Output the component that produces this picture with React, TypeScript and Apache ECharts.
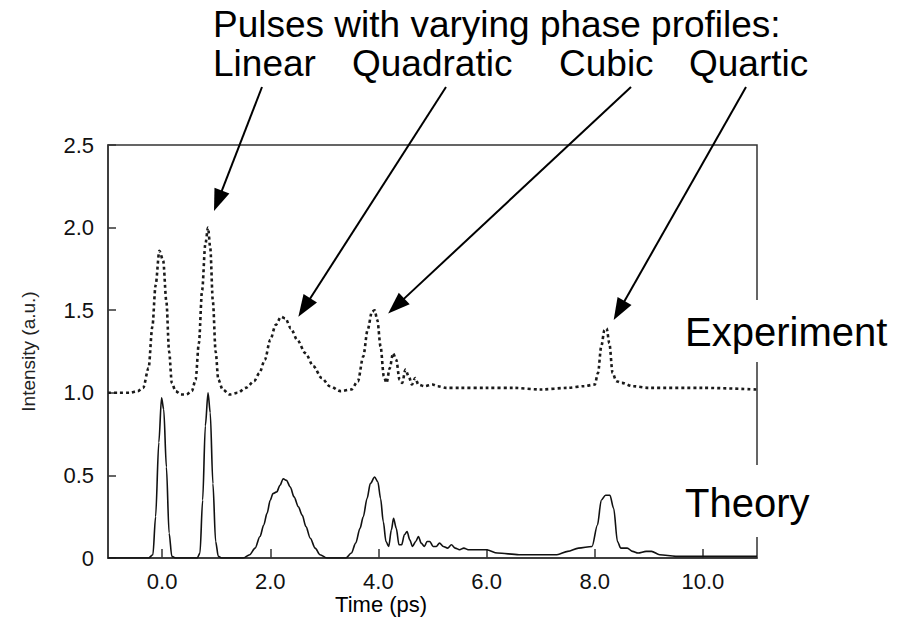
import React, { useEffect, useRef } from 'react';
import * as echarts from 'echarts';

// Experiment (dotted, offset by 1.0)
const expTime = [
  -1.0, -0.8, -0.6, -0.45, -0.35, -0.25, -0.18, -0.12, -0.05, 0.02, 0.08, 0.13, 0.18, 0.25, 0.35, 0.45,
  0.55, 0.62, 0.68, 0.74, 0.8, 0.85, 0.89, 0.94, 0.99, 1.04, 1.12, 1.25, 1.4, 1.55, 1.7, 1.8,
  1.9, 2.0, 2.1, 2.2, 2.28, 2.38, 2.5, 2.65, 2.8, 2.95, 3.1, 3.3, 3.5, 3.62, 3.72, 3.8,
  3.88, 3.93, 3.98, 4.04, 4.1, 4.15, 4.21, 4.27, 4.33, 4.39, 4.44, 4.5, 4.56, 4.62, 4.68, 4.74,
  4.85, 5.0, 5.1, 5.25, 5.5, 6.0, 6.5, 7.0, 7.5, 7.8, 8.0, 8.06, 8.12, 8.18, 8.22, 8.27,
  8.33, 8.4, 8.5, 8.7, 9.0, 10.0, 11.0,
];
const expIntensity = [
  1.0, 1.0, 1.0, 1.01, 1.03, 1.15, 1.4, 1.65, 1.86, 1.8, 1.55, 1.25, 1.06, 1.01, 0.99, 0.99,
  1.01, 1.08, 1.3, 1.62, 1.9, 2.0, 1.88, 1.55, 1.25, 1.08, 1.02, 0.99, 1.0, 1.03, 1.07, 1.12,
  1.2, 1.32, 1.41, 1.46, 1.45, 1.39, 1.32, 1.24, 1.16, 1.09, 1.04, 1.01, 1.02, 1.07, 1.22, 1.38,
  1.49, 1.5, 1.44, 1.28, 1.1, 1.06, 1.15, 1.24, 1.2, 1.08, 1.06, 1.14, 1.1, 1.05, 1.09, 1.05,
  1.04, 1.05, 1.04, 1.03, 1.03, 1.03, 1.03, 1.02, 1.03, 1.04, 1.05, 1.12, 1.28, 1.38, 1.39, 1.3,
  1.12, 1.07, 1.06, 1.04, 1.03, 1.03, 1.02,
];

// Theory (solid)
const theoryTime = [
  -1.0, -0.25, -0.17, -0.12, -0.06, -0.01, 0.03, 0.08, 0.13, 0.18, 0.25, 0.65, 0.7, 0.75, 0.8, 0.85,
  0.89, 0.94, 0.99, 1.04, 1.1, 1.5, 1.62, 1.72, 1.81, 1.88, 1.94, 2.0, 2.05, 2.12, 2.18, 2.24,
  2.3, 2.37, 2.44, 2.52, 2.59, 2.66, 2.74, 2.83, 2.92, 3.05, 3.4, 3.5, 3.58, 3.66, 3.72, 3.79,
  3.85, 3.93, 3.99, 4.04, 4.09, 4.14, 4.19, 4.24, 4.28, 4.33, 4.38, 4.43, 4.48, 4.53, 4.58, 4.63,
  4.69, 4.74, 4.79, 4.85, 4.9, 4.95, 5.01, 5.07, 5.13, 5.2, 5.28, 5.35, 5.42, 5.5, 5.58, 5.66,
  5.75, 5.85, 6.0, 6.2, 6.6, 7.0, 7.3, 7.5, 7.7, 7.95, 8.05, 8.12, 8.2, 8.28, 8.35, 8.42,
  8.48, 8.6, 8.7, 8.8, 8.95, 9.05, 9.2, 9.5, 10.0, 11.0,
];
const theoryIntensity = [
  0, 0, 0.02, 0.25, 0.7, 0.97, 0.9, 0.55, 0.15, 0.01, 0, 0, 0.03, 0.35, 0.8, 1.0,
  0.88, 0.45, 0.1, 0.01, 0, 0, 0.02, 0.06, 0.13, 0.2, 0.27, 0.35, 0.39, 0.4, 0.44, 0.48,
  0.47, 0.43, 0.37, 0.31, 0.26, 0.19, 0.12, 0.06, 0.02, 0, 0, 0.03, 0.09, 0.18, 0.25, 0.36,
  0.45, 0.49, 0.46, 0.36, 0.22, 0.1, 0.07, 0.17, 0.24, 0.18, 0.08, 0.08, 0.14, 0.16, 0.11, 0.07,
  0.1, 0.13, 0.09, 0.07, 0.1, 0.1, 0.07, 0.07, 0.09, 0.07, 0.06, 0.08, 0.06, 0.05, 0.06, 0.05,
  0.05, 0.05, 0.05, 0.03, 0.02, 0.02, 0.02, 0.04, 0.06, 0.07, 0.2, 0.35, 0.38, 0.38, 0.3, 0.1,
  0.06, 0.06, 0.04, 0.03, 0.04, 0.04, 0.02, 0.01, 0.01, 0.01,
];

const xTickValues = [0, 2, 4, 6, 8, 10];

const headerLine = 'Pulses with varying phase profiles:';
const pulseLabels = ['Linear', 'Quadratic', 'Cubic', 'Quartic'];
// arrow tips in data coordinates (time, intensity)
const arrowTipTime = [0.96, 2.52, 4.18, 8.35];
const arrowTipIntensity = [2.1, 1.46, 1.48, 1.44];

const FONT = 'Liberation Sans, Arial, Helvetica, sans-serif';

export default function App() {
  const ref = useRef<HTMLDivElement>(null);
  useEffect(() => {
    const chart = echarts.init(ref.current as HTMLDivElement, null, { renderer: 'svg' });
    const option: any = {
      animation: false,
      backgroundColor: '#ffffff',
      grid: {
        left: 108,
        right: 155,
        top: 145,
        bottom: 62,
        show: true,
        borderColor: '#333',
        borderWidth: 1.5,
        backgroundColor: 'transparent',
      },
      xAxis: {
        type: 'value',
        min: -1,
        max: 11,
        axisLine: { show: true, onZero: false, lineStyle: { color: '#333', width: 1.5 } },
        axisTick: {
          show: true,
          inside: true,
          length: 9,
          customValues: xTickValues,
          lineStyle: { color: '#333', width: 1.5 },
        },
        axisLabel: {
          customValues: xTickValues,
          formatter: (v: number) => v.toFixed(1),
          fontSize: 22,
          color: '#111',
          fontFamily: FONT,
          margin: 12,
        },
        splitLine: { show: false },
      },
      yAxis: {
        type: 'value',
        min: 0,
        max: 2.5,
        interval: 0.5,
        name: 'Intensity (a.u.)',
        nameLocation: 'middle',
        nameGap: 70,
        nameRotate: 90,
        nameTextStyle: { fontSize: 19, color: '#222', fontFamily: FONT },
        axisLine: { show: true, onZero: false, lineStyle: { color: '#333', width: 1.5 } },
        axisTick: { show: true, inside: true, length: 8, lineStyle: { color: '#333', width: 1.5 } },
        axisLabel: {
          formatter: (v: number) => (v === 0 ? '0' : v.toFixed(1)),
          fontSize: 22,
          color: '#111',
          fontFamily: FONT,
          margin: 14,
        },
        splitLine: { show: false },
      },
      series: [
        {
          name: 'Experiment',
          type: 'line',
          data: expTime.map((t, i) => [t, expIntensity[i]]),
          showSymbol: false,
          smooth: 0.3,
          smoothMonotone: 'x',
          lineStyle: { color: '#1a1a1a', width: 2.6, type: [3, 3], cap: 'butt' },
          z: 3,
        },
        {
          name: 'Theory',
          type: 'line',
          data: theoryTime.map((t, i) => [t, theoryIntensity[i]]),
          showSymbol: false,
          smooth: 0.3,
          smoothMonotone: 'x',
          lineStyle: { color: '#111', width: 1.6 },
          z: 4,
        },
      ],
    };
    chart.setOption(option);

    const px = (x: number, y: number) => chart.convertToPixel({ gridIndex: 0 }, [x, y]) as number[];
    const graphics: any[] = [];
    const txt = (text: string, x: number, y: number, size: number, align = 'left') => ({
      type: 'text',
      z: 110,
      style: {
        text,
        x,
        y,
        font: `${size}px ${FONT}`,
        fill: '#000',
        textAlign: align,
        textVerticalAlign: 'middle',
        align,
        verticalAlign: 'middle',
      },
    });

    // header text
    graphics.push(txt(headerLine, 213, 24, 37));
    const labelX = [213, 352, 559, 689];
    pulseLabels.forEach((l, i) => graphics.push(txt(l, labelX[i], 63, 37)));

    // arrows
    const arrowStart = [
      [262, 87],
      [446, 87],
      [631, 87],
      [746, 87],
    ];
    arrowTipTime.forEach((t, i) => {
      const tip = px(t, arrowTipIntensity[i]);
      const [sx, sy] = arrowStart[i];
      const dx = tip[0] - sx;
      const dy = tip[1] - sy;
      const len = Math.sqrt(dx * dx + dy * dy);
      const ux = dx / len;
      const uy = dy / len;
      const L = 22;
      const W = 8;
      const bx = tip[0] - ux * L;
      const by = tip[1] - uy * L;
      graphics.push({
        type: 'line',
        z: 105,
        shape: { x1: sx, y1: sy, x2: bx + ux * 2, y2: by + uy * 2 },
        style: { stroke: '#000', lineWidth: 2 },
      });
      graphics.push({
        type: 'polygon',
        z: 105,
        shape: {
          points: [
            [tip[0], tip[1]],
            [bx - uy * W, by + ux * W],
            [bx + uy * W, by - ux * W],
          ],
        },
        style: { fill: '#000' },
      });
    });

    // Experiment / Theory labels with white boxes
    graphics.push({ type: 'rect', z: 100, shape: { x: 662, y: 300, width: 245, height: 62 }, style: { fill: '#fff' } });
    graphics.push(txt('Experiment', 685, 332, 40));
    graphics.push({ type: 'rect', z: 100, shape: { x: 665, y: 465, width: 240, height: 72 }, style: { fill: '#fff' } });
    graphics.push(txt('Theory', 685, 503, 40));

    // x axis title
    const tpos = px(4.05, 0);
    graphics.push(txt('Time (ps)', tpos[0], 604, 22, 'center'));

    chart.setOption({ graphic: graphics });
    return () => chart.dispose();
  }, []);
  return (
    <div
      ref={ref}
      style={{ position: 'fixed', left: 0, top: 0, width: 912, height: 620, background: '#fff' }}
    />
  );
}
